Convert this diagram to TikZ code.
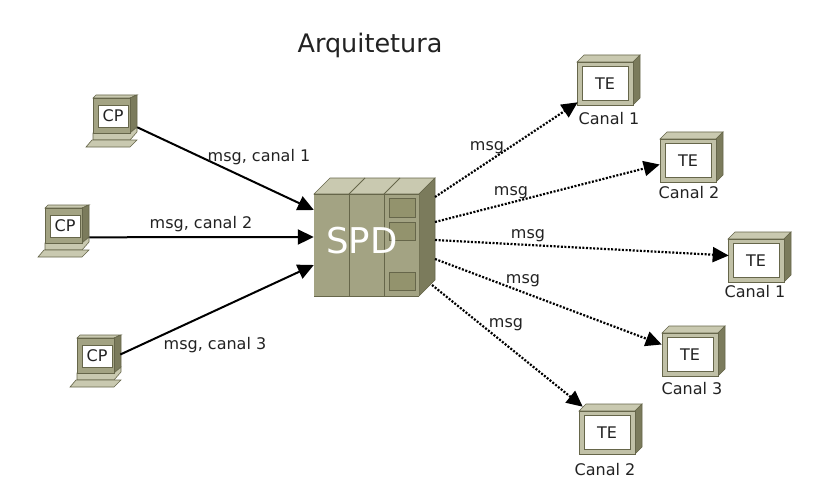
\documentclass[tikz,border=0pt]{standalone}
\usepackage{fontspec}
\setmainfont{DejaVu Sans}
\usetikzlibrary{arrows.meta}
\definecolor{olivefront}{HTML}{A3A383}
\definecolor{olivetop}{HTML}{C9C9B0}
\definecolor{oliveside}{HTML}{7B7B5C}
\definecolor{oliveline}{HTML}{66664A}
\definecolor{oliveslot}{HTML}{93936D}
\definecolor{inkgray}{HTML}{222222}
% TE: name, x, y of the front face
\newcommand{\terminal}[3]{
  \begin{scope}[shift={(#2,#3)}]
    \fill[olivetop,draw=oliveline,semithick] (0,0) -- (7,-7) -- (63,-7) -- (56,0) -- cycle;
    \fill[oliveside,draw=oliveline,semithick] (56,0) -- (63,-7) -- (63,36) -- (56,43) -- cycle;
    \node[teframe] (#1) at (28,21.5) {};
    \node[window,minimum width=46pt,minimum height=34pt] at (28,21.5) {TE};
  \end{scope}
}
% CP: name, x, y of the screen front
\newcommand{\station}[3]{
  \begin{scope}[shift={(#2,#3)}]
    \fill[olivetop,draw=oliveline,semithick] (0,0) -- (3,-3) -- (44,-3) -- (37,0) -- cycle;
    \fill[oliveside,draw=oliveline,semithick] (37,0) -- (44,-3) -- (44,29) -- (37,35) -- cycle;
    \fill[olivetop,draw=oliveline,semithick] (0,35) -- (37,35) -- (44,29) -- (44,34) -- (37,42) -- (0,42) -- cycle;
    \fill[olivetop,draw=oliveline,semithick] (-1,42) -- (44,42) -- (37,49) -- (-7,49) -- cycle;
    \node[cpframe] (#1) at (18.5,17.5) {};
    \node[window,minimum width=30pt,minimum height=22pt] at (20,18) {CP};
  \end{scope}
}
\begin{document}
\begin{tikzpicture}[x=1pt,y=-1pt,font=\fontsize{16}{18}\selectfont,text=inkgray]
  \tikzstyle{teframe}=[rectangle,draw=oliveline,semithick,fill=olivetop!80!olivefront,minimum width=56pt,minimum height=43pt,inner sep=0pt]
  \tikzstyle{cpframe}=[rectangle,draw=oliveline,semithick,fill=olivefront,minimum width=37pt,minimum height=35pt,inner sep=0pt]
  \tikzstyle{window}=[rectangle,draw=oliveline,semithick,fill=white,inner sep=0pt]
  \tikzstyle{slot}=[draw=oliveline,line width=1pt,fill=oliveslot]
  \tikzstyle{msgline}=[draw=black,line width=2pt,-{Triangle[length=16pt,width=15pt]}]
  \tikzstyle{dotline}=[draw=black,line width=2.2pt,dash pattern=on 2pt off 1.6pt,-{Triangle[length=16pt,width=15pt]}]
  \useasboundingbox (0,0) rectangle (831,495);

  \node[font=\fontsize{25.5}{28}\selectfont] (title) at (370,45) {Arquitetura};

  % SPD rack
  \fill[olivetop,draw=oliveline,semithick] (314,194) -- (330,178) -- (435,178) -- (419,194) -- cycle;
  \fill[oliveside,draw=oliveline,semithick] (419,194) -- (435,178) -- (435,280) -- (419,296) -- cycle;
  \node[rectangle,fill=olivefront,minimum width=105pt,minimum height=102pt,inner sep=0pt] (spd) at (366.5,245) {};
  \draw[oliveline,line width=1pt] (314,194) -- (419,194) (349,194) -- (349,296) (384,194) -- (384,296) (314,296) -- (419,296);
  \draw[oliveline,line width=1pt] (349,194) -- (365,178) (384,194) -- (400,178);
  \draw[slot] (389,198) rectangle (415,217);
  \draw[slot] (389,222) rectangle (415,240);
  \draw[slot] (389,272) rectangle (415,290);
  \node[text=white,font=\fontsize{35.5}{38}\selectfont] (spdlabel) at (362,241) {SPD};

  \station{cp1}{93}{98}
  \station{cp2}{45}{208}
  \station{cp3}{77}{338}

  \terminal{te1}{577}{62}
  \terminal{te2}{660}{139}
  \terminal{te3}{728}{239}
  \terminal{te4}{662}{333}
  \terminal{te5}{579}{411}

  \coordinate (out1) at (435,197);
  \coordinate (out2) at (435,222);
  \coordinate (out3) at (435,240);
  \coordinate (out4) at (435,259);
  \coordinate (out5) at (432,285);

  \draw[msgline] ([shift={(7,-6)}]cp1.south east) -- ([shift={(0,-35)}]spd.west);
  \draw[msgline] ([shift={(7,-6)}]cp2.south east) -- ([shift={(0,-8)}]spd.west);
  \draw[msgline] ([shift={(6,-1)}]cp3.east) -- ([shift={(0,20)}]spd.west);

  \draw[dotline] (out1) -- ([shift={(1,-3)}]te1.south west);
  \draw[dotline] (out2) -- ([shift={(0,4)}]te2.west);
  \draw[dotline] (out3) -- ([shift={(1,-5)}]te3.west);
  \draw[dotline] (out4) -- ([shift={(0,-10)}]te4.west);
  \draw[dotline] (out5) -- ([shift={(4,-4)}]te5.north west);

  \node (lab1) at (259,157) {msg, canal 1};
  \node (lab2) at (201,224) {msg, canal 2};
  \node (lab3) at (215,345) {msg, canal 3};
  \node (msg1) at (487,148) {msg};
  \node (msg2) at (511,193) {msg};
  \node (msg3) at (528,236) {msg};
  \node (msg4) at (523,281) {msg};
  \node (msg5) at (506,325) {msg};
  \node (can1) at (609,119) {Canal 1};
  \node (can2) at (689,193) {Canal 2};
  \node (can3) at (755,292) {Canal 1};
  \node (can4) at (692,389) {Canal 3};
  \node (can5) at (605,470) {Canal 2};
\end{tikzpicture}
\end{document}
